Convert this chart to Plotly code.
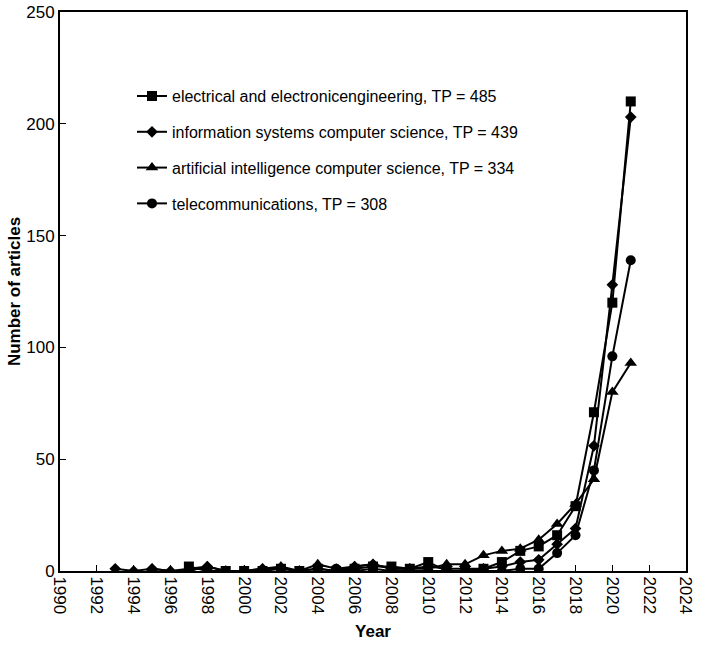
import plotly.graph_objects as go

years = list(range(1993, 2022))

# None = no publication point drawn for that year
electrical = [None, None, None, None, 2, 0, 0, 0, 0, 1, 0, 1, 0, 1, 2, 2, 1, 4, 0, 0,
              1, 4, 9, 11, 16, 29, 71, 120, 210]
info_systems = [1, 0, 1, 0, 0, 2, 0, 0, 1, 1, 0, 1, 0, 2, 3, 1, 1, 2, 1, 1,
                1, 2, 4, 5, 12, 19, 56, 128, 203]
ai = [None, None, 1, 0, 1, 2, 0, 0, 1, 2, 0, 3, 1, 2, 3, 1, 1, 1, 3, 3,
      7, 9, 10, 14, 21, 30, 41, 80, 93]
telecom = [None] * 12 + [1, 0, 1, 0, 0, 0, 0, 0,
                         0, 0, 1, 1, 8, 16, 45, 96, 139]

series = [
    ("electrical and electronicengineering, TP = 485", electrical, "square", 10),
    ("information systems computer science, TP = 439", info_systems, "diamond", 9),
    ("artificial intelligence computer science, TP = 334", ai, "triangle-up", 11),
    ("telecommunications, TP = 308", telecom, "circle", 10),
]

fig = go.Figure()
for i, (name, vals, sym, size) in enumerate(series):
    fig.add_trace(go.Scatter(
        x=years, y=vals, name=name, mode="lines+markers",
        line=dict(color="black", width=2),
        marker=dict(symbol=sym, size=size, color="black"),
        legendgroup=f"g{i}", connectgaps=False
    ))

font = "Liberation Sans, Arial, sans-serif"
fig.update_layout(
    width=709, height=647,
    margin=dict(l=60, r=23, t=12, b=76),
    plot_bgcolor="white", paper_bgcolor="white",
    font=dict(family=font, size=17, color="black"),
    legend=dict(
        x=0.115, y=0.88, xanchor="left", yanchor="top",
        bgcolor="rgba(0,0,0,0)", traceorder="grouped", tracegroupgap=12,
        font=dict(size=16), itemwidth=30
    ),
    xaxis=dict(
        range=[1990, 2024], dtick=2, tick0=1990, tickangle=90,
        ticks="inside", ticklen=6, tickcolor="black", automargin=False,
        showline=True, linecolor="black", linewidth=2, mirror=True,
        showgrid=False, zeroline=False,
        title=dict(text="<b>Year</b>", font=dict(size=17), standoff=12)
    ),
    yaxis=dict(
        range=[0, 250], dtick=50, automargin=False,
        ticks="inside", ticklen=6, tickcolor="black",
        showline=True, linecolor="black", linewidth=2, mirror=True,
        showgrid=False, zeroline=False,
        title=dict(text="<b>Number of articles</b>", font=dict(size=17), standoff=1)
    ),
)

# drop the default 8px page margin so the figure fills the window
fig.write_html("out.html", config={"displayModeBar": False},
               post_script="document.body.style.margin = '0px';")
